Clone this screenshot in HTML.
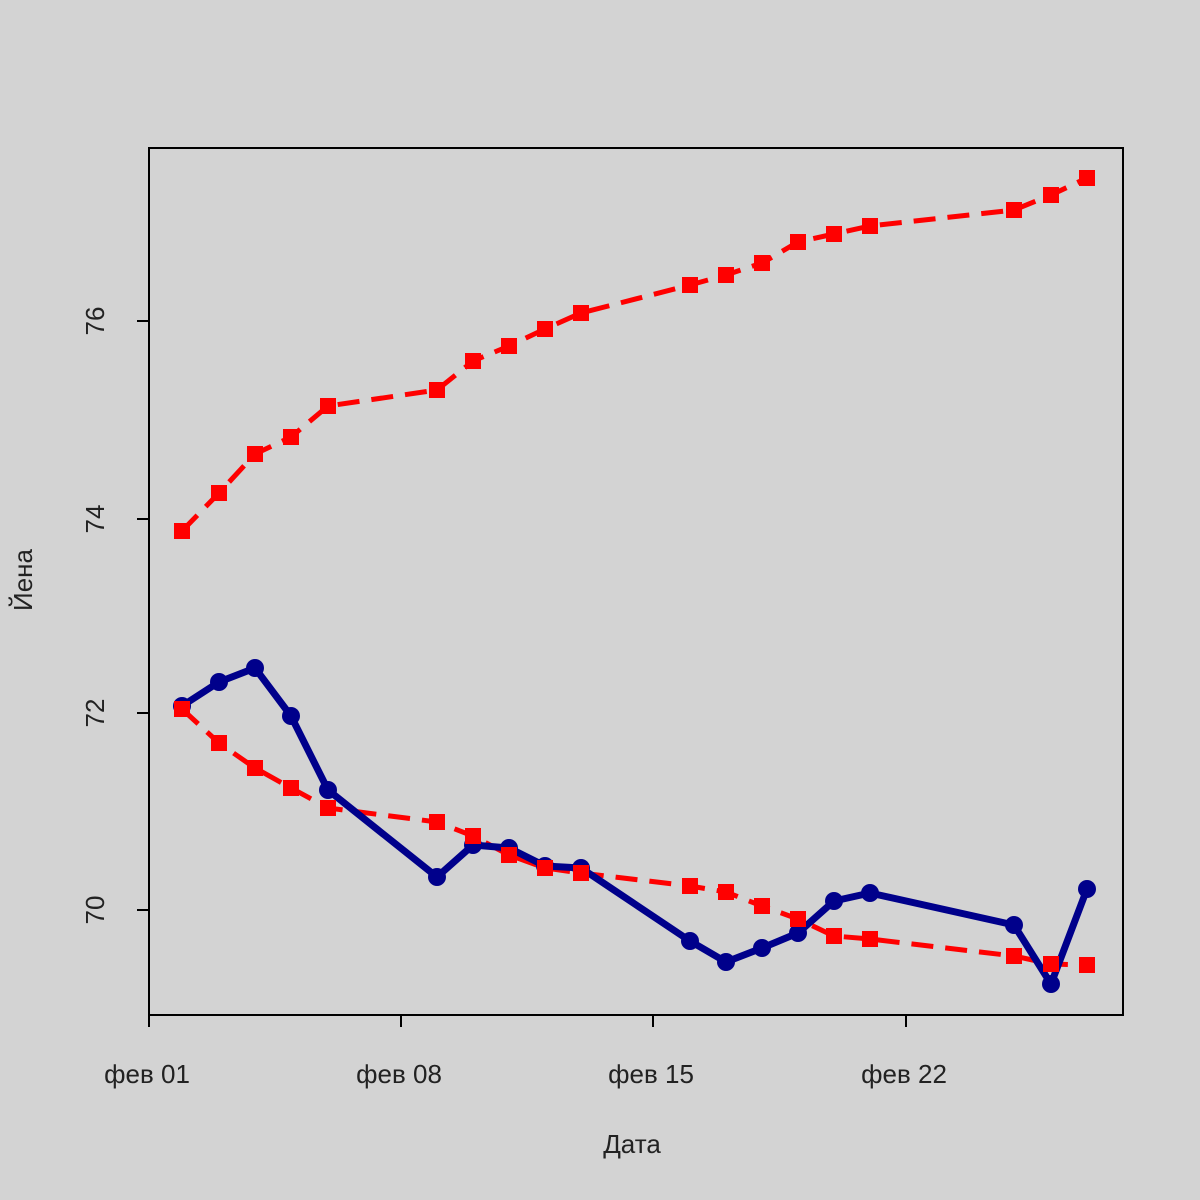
<!DOCTYPE html>
<html><head><meta charset="utf-8"><style>body{margin:0;background:#d3d3d3}svg{display:block}</style></head><body>
<svg width="1200" height="1200" xmlns="http://www.w3.org/2000/svg" font-family="Liberation Sans, sans-serif">
<rect width="1200" height="1200" fill="#d3d3d3"/>
<rect x="149" y="148" width="974" height="867" fill="none" stroke="#000" stroke-width="2"/>
<g stroke="#000" stroke-width="2">
<line x1="149" y1="1015" x2="149" y2="1027"/><line x1="401" y1="1015" x2="401" y2="1027"/><line x1="653" y1="1015" x2="653" y2="1027"/><line x1="906" y1="1015" x2="906" y2="1027"/>
<line x1="137" y1="321" x2="149" y2="321"/><line x1="137" y1="519" x2="149" y2="519"/><line x1="137" y1="713" x2="149" y2="713"/><line x1="137" y1="910" x2="149" y2="910"/>
</g>
<g font-size="26" fill="#222" text-anchor="middle">
<text x="147" y="1083">фев 01</text><text x="399" y="1083">фев 08</text><text x="651" y="1083">фев 15</text><text x="904" y="1083">фев 22</text>
<text transform="translate(104,321) rotate(-90)">76</text>
<text transform="translate(104,519) rotate(-90)">74</text>
<text transform="translate(104,713) rotate(-90)">72</text>
<text transform="translate(104,910) rotate(-90)">70</text>
<text x="632" y="1153">Дата</text>
<text transform="translate(32,580) rotate(-90)">Йена</text>
</g>
<g fill="none" stroke="#ff0000" stroke-width="5" stroke-dasharray="22,12">
<polyline points="182,531 219,493 255,454 291,437 328,406 437,390 473,361 509,346 545,329 581,313 690,285 726,275 762,263 798,242 834,234 870,226 1014,210 1051,195 1087,178"/>
<polyline points="182,709 219,743 255,768 291,788 328,808 437,822 473,836 509,855 545,868 581,873 690,886 726,892 762,906 798,919 834,936 870,939 1014,956 1051,964 1087,965"/>
</g>
<g fill="#ff0000" id="sq"></g>
<polyline fill="none" stroke="#00008b" stroke-width="7" stroke-linejoin="round" points="182,706 219,682 255,668 291,716 328,790 437,877 473,845 509,848 545,866 581,868 690,941 726,962 762,948 798,933 834,901 870,893 1014,925 1051,984 1087,889"/>
<g fill="#00008b">
<circle cx="182" cy="706" r="9"/><circle cx="219" cy="682" r="9"/><circle cx="255" cy="668" r="9"/><circle cx="291" cy="716" r="9"/><circle cx="328" cy="790" r="9"/><circle cx="437" cy="877" r="9"/><circle cx="473" cy="845" r="9"/><circle cx="509" cy="848" r="9"/><circle cx="545" cy="866" r="9"/><circle cx="581" cy="868" r="9"/><circle cx="690" cy="941" r="9"/><circle cx="726" cy="962" r="9"/><circle cx="762" cy="948" r="9"/><circle cx="798" cy="933" r="9"/><circle cx="834" cy="901" r="9"/><circle cx="870" cy="893" r="9"/><circle cx="1014" cy="925" r="9"/><circle cx="1051" cy="984" r="9"/><circle cx="1087" cy="889" r="9"/>
</g>
<g fill="#ff0000">
<rect x="174" y="523" width="16" height="16"/><rect x="211" y="485" width="16" height="16"/><rect x="247" y="446" width="16" height="16"/><rect x="283" y="429" width="16" height="16"/><rect x="320" y="398" width="16" height="16"/><rect x="429" y="382" width="16" height="16"/><rect x="465" y="353" width="16" height="16"/><rect x="501" y="338" width="16" height="16"/><rect x="537" y="321" width="16" height="16"/><rect x="573" y="305" width="16" height="16"/><rect x="682" y="277" width="16" height="16"/><rect x="718" y="267" width="16" height="16"/><rect x="754" y="255" width="16" height="16"/><rect x="790" y="234" width="16" height="16"/><rect x="826" y="226" width="16" height="16"/><rect x="862" y="218" width="16" height="16"/><rect x="1006" y="202" width="16" height="16"/><rect x="1043" y="187" width="16" height="16"/><rect x="1079" y="170" width="16" height="16"/>
<rect x="174" y="701" width="16" height="16"/><rect x="211" y="735" width="16" height="16"/><rect x="247" y="760" width="16" height="16"/><rect x="283" y="780" width="16" height="16"/><rect x="320" y="800" width="16" height="16"/><rect x="429" y="814" width="16" height="16"/><rect x="465" y="828" width="16" height="16"/><rect x="501" y="847" width="16" height="16"/><rect x="537" y="860" width="16" height="16"/><rect x="573" y="865" width="16" height="16"/><rect x="682" y="878" width="16" height="16"/><rect x="718" y="884" width="16" height="16"/><rect x="754" y="898" width="16" height="16"/><rect x="790" y="911" width="16" height="16"/><rect x="826" y="928" width="16" height="16"/><rect x="862" y="931" width="16" height="16"/><rect x="1006" y="948" width="16" height="16"/><rect x="1043" y="956" width="16" height="16"/><rect x="1079" y="957" width="16" height="16"/>
</g>
</svg>
</body></html>
